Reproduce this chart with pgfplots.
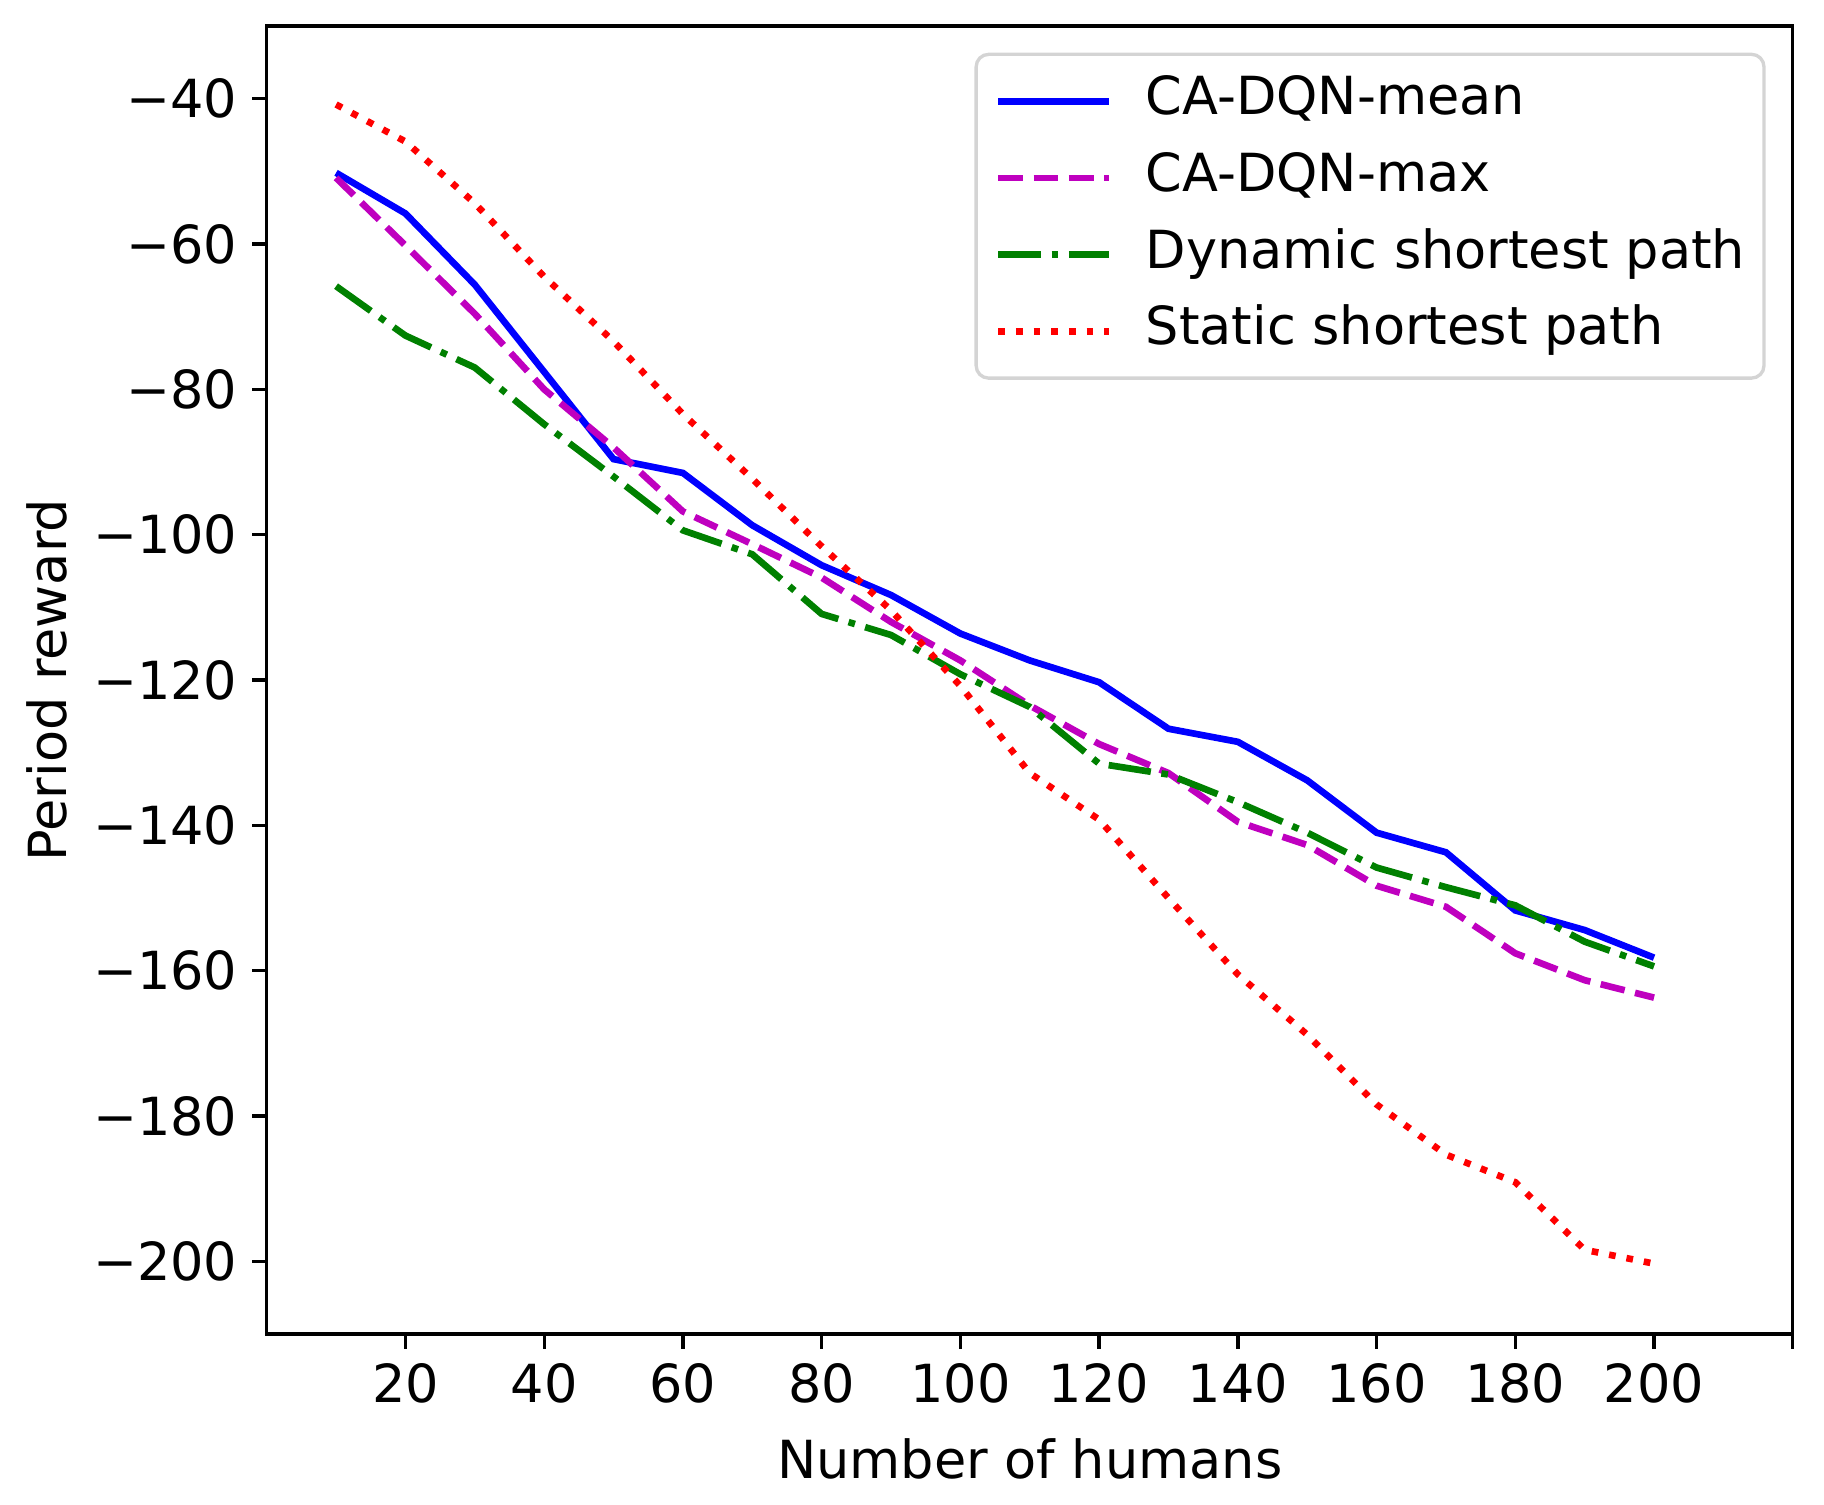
\documentclass[border=0pt]{standalone}
\usepackage{pgfplots}
\pgfplotsset{compat=1.18}
\usepackage{fontspec}
\setmainfont{DejaVu Sans}
\begin{document}
\begin{tikzpicture}
\begin{axis}[
  scale only axis,
  width=366.2pt, height=313.9pt,
  xmin=0, xmax=220, ymin=-210, ymax=-30,
  xtick={20,40,...,220},
  xticklabels={20,40,60,80,100,120,140,160,180,200,},
  ytick={-200,-180,...,-40},
  yticklabels={−200,−180,−160,−140,−120,−100,−80,−60,−40},
  tick align=outside,
  xtick pos=bottom, ytick pos=left,
  major tick length=3.5pt,
  tick style={black, line width=0.8pt},
  axis line style={line width=0.8pt},
  /pgf/number format/assume math mode=true,
  ticklabel style={font=\fontsize{12.6}{15}\selectfont},
  label style={font=\fontsize{12.6}{15}\selectfont},
  xlabel={Number of humans},
  ylabel={Period reward},
  xlabel style={at={(axis description cs:0.5,0)}, anchor=center, yshift=-30pt},
  ylabel style={at={(axis description cs:-0.144,0.5)}, anchor=center},
  legend style={at={(1,1)}, xshift=-6.5pt, yshift=-6.4pt, anchor=north east,
    draw=black!17, rounded corners=3pt, line width=0.8pt,
    font=\fontsize{12.6}{15}\selectfont, row sep=5.9pt, inner xsep=4.5pt, inner ysep=5pt,
    nodes={inner sep=0pt, text height=9.5pt, text depth=3pt},
    /tikz/every odd column/.append style={column sep=8pt}},
  legend cell align=left,
  legend image code/.code={\draw[#1] (0pt,0pt) -- (26.6pt,0pt);},
]
\addplot[blue, line width=1.6pt] coordinates {
(10,-50.2) (20,-55.8) (30,-65.6) (40,-77.6) (50,-89.6) (60,-91.5) (70,-98.7) (80,-104.2) (90,-108.3) (100,-113.6) (110,-117.3) (120,-120.3) (130,-126.7) (140,-128.5) (150,-133.8) (160,-141.0) (170,-143.7) (180,-151.7) (190,-154.4) (200,-158.2)};
\addlegendentry{CA-DQN-mean}
\addplot[color={rgb,1:red,0.75;green,0;blue,0.75}, line width=1.6pt, dash pattern=on 5.92pt off 2.56pt] coordinates {
(10,-50.9) (20,-60.2) (30,-69.6) (40,-80.0) (50,-88.0) (60,-96.8) (70,-101.3) (80,-105.9) (90,-112.0) (100,-117.3) (110,-123.5) (120,-128.8) (130,-132.8) (140,-139.5) (150,-142.7) (160,-148.3) (170,-151.2) (180,-157.6) (190,-161.3) (200,-163.7)};
\addlegendentry{CA-DQN-max}
\addplot[color={rgb,1:red,0;green,0.5;blue,0}, line width=1.6pt, dash pattern=on 10.24pt off 2.56pt on 1.6pt off 2.56pt] coordinates {
(10,-65.8) (20,-72.6) (30,-77.0) (40,-84.8) (50,-92.0) (60,-99.4) (70,-102.7) (80,-110.9) (90,-113.8) (100,-119.2) (110,-123.7) (120,-131.5) (130,-133.0) (140,-136.8) (150,-141.0) (160,-145.8) (170,-148.5) (180,-151.0) (190,-156.0) (200,-159.4)};
\addlegendentry{Dynamic shortest path}
\addplot[red, line width=1.6pt, dash pattern=on 1.6pt off 2.64pt] coordinates {
(10,-40.8) (20,-45.9) (30,-54.4) (40,-64.5) (50,-73.4) (60,-83.4) (70,-92.3) (80,-101.6) (90,-110.4) (100,-120.8) (110,-132.8) (120,-139.2) (130,-150.0) (140,-160.5) (150,-168.8) (160,-178.4) (170,-185.3) (180,-189.1) (190,-198.4) (200,-200.3)};
\addlegendentry{Static shortest path}
\end{axis}
\pgfresetboundingbox
\path (current axis.south west) ++(-64pt,-41pt) coordinate (bl);
\path (current axis.north east) ++(7.5pt,6.24pt) coordinate (tr);
\path (bl) rectangle (tr);
\end{tikzpicture}
\end{document}
